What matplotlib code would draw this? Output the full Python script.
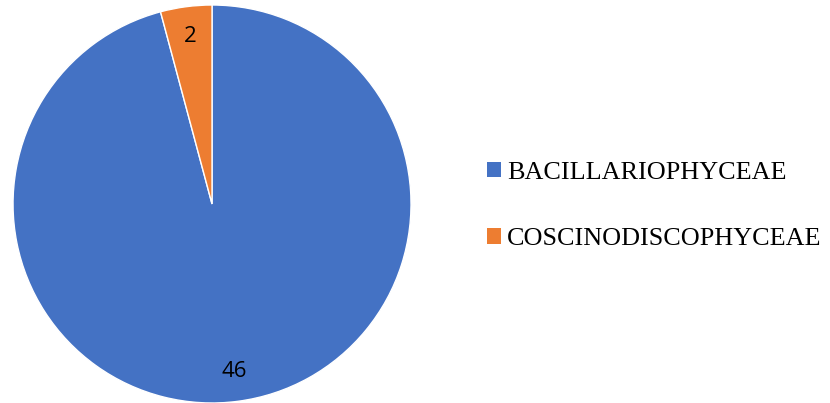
import matplotlib
matplotlib.use("Agg")
import matplotlib.pyplot as plt
from matplotlib.patches import Patch

# Diatom classes and counts
classes = ["BACILLARIOPHYCEAE", "COSCINODISCOPHYCEAE"]
counts = [46, 2]
colors = ["#4472C4", "#ED7D31"]

fig = plt.figure(figsize=(8.30, 4.03), dpi=100)
ax = fig.add_axes([0.0157, 0.0, 0.4795, 0.9876])

wedges, texts, autotexts = ax.pie(
    counts,
    colors=colors,
    startangle=90,
    counterclock=False,
    autopct=lambda p: f"{round(p * sum(counts) / 100):d}",
    pctdistance=0.85,
    wedgeprops=dict(edgecolor="white", linewidth=1),
    textprops=dict(fontsize=16, family="Open Sans", color="black"),
)
ax.set_xlim(-1, 1)
ax.set_ylim(-1, 1)

handles = [Patch(facecolor=c, edgecolor="none") for c in colors]
fig.legend(
    handles, classes,
    loc="center left",
    bbox_to_anchor=(0.5867, 0.489),
    frameon=False,
    prop=dict(family="Liberation Serif", size=18.8),
    handlelength=0.53,
    handleheight=0.53,
    handletextpad=0.23,
    labelspacing=1.7,
    borderpad=0,
    borderaxespad=0,
)

plt.savefig("out.png", dpi=100)
plt.close()
